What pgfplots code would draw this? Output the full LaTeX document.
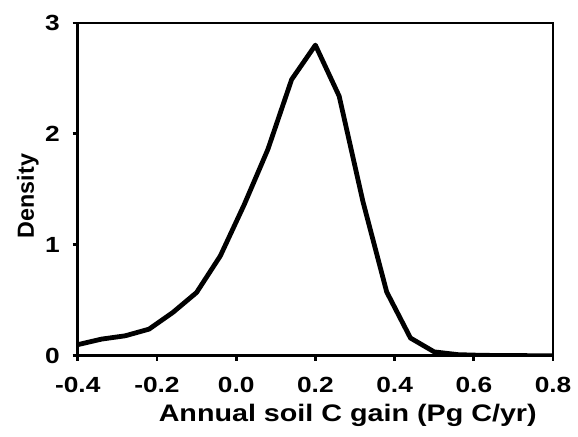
\documentclass[border=0pt]{standalone}
\usepackage{fontspec}
\setmainfont{Liberation Sans}
\newfontfamily\widefont[FakeStretch=1.2]{Liberation Sans}
\usepackage{pgfplots}
\pgfplotsset{compat=1.18}
\usetikzlibrary{calc}

\begin{document}
\begin{tikzpicture}
\begin{axis}[
    scale only axis, width=238.5pt, height=167pt,
    xmin=-0.4, xmax=0.8, ymin=0, ymax=3,
    xtick={-0.4,-0.2,0,0.2,0.4,0.6,0.8},
    xticklabels={-0.4,-0.2,0.0,0.2,0.4,0.6,0.8},
    ytick={0,1,2,3}, yticklabels={0,1,2,3},
    tick align=outside, tick pos=left, major tick length=2.5pt,
    axis line style={line width=1.4pt},
    every tick/.style={line width=1.4pt, black},
    xticklabel style={font=\widefont\bfseries\fontsize{11}{12}\selectfont, yshift=-4.5pt},
    yticklabel style={font=\widefont\bfseries\fontsize{11}{12}\selectfont, xshift=-3pt},
    xlabel={Annual soil C gain (Pg C/yr)},
    ylabel={Density},
    xlabel style={font=\widefont\bfseries\fontsize{12}{14}\selectfont,
        at={(rel axis cs:0.568,-0.18)}, anchor=center},
    ylabel style={font=\bfseries\fontsize{11.7}{14}\selectfont,
        at={(rel axis cs:-0.105,0.48)}, anchor=center, rotate=0},
]
\addplot[line width=2.4pt, black, line join=round] coordinates {
    (-0.40,0.10) (-0.34,0.15) (-0.28,0.18) (-0.22,0.24) (-0.16,0.39)
    (-0.10,0.57) (-0.04,0.90) (0.02,1.36) (0.08,1.86) (0.14,2.49)
    (0.20,2.80) (0.26,2.34) (0.32,1.39) (0.38,0.575) (0.44,0.16)
    (0.50,0.035) (0.56,0.01) (0.62,0.004) (0.68,0.002) (0.74,0.001) (0.80,0.001)
};
\end{axis}
\useasboundingbox ($(current axis.south west)+(-39pt,-40.5pt)$) rectangle ($(current axis.south west)+(250pt,178.5pt)$);
\end{tikzpicture}
\end{document}
